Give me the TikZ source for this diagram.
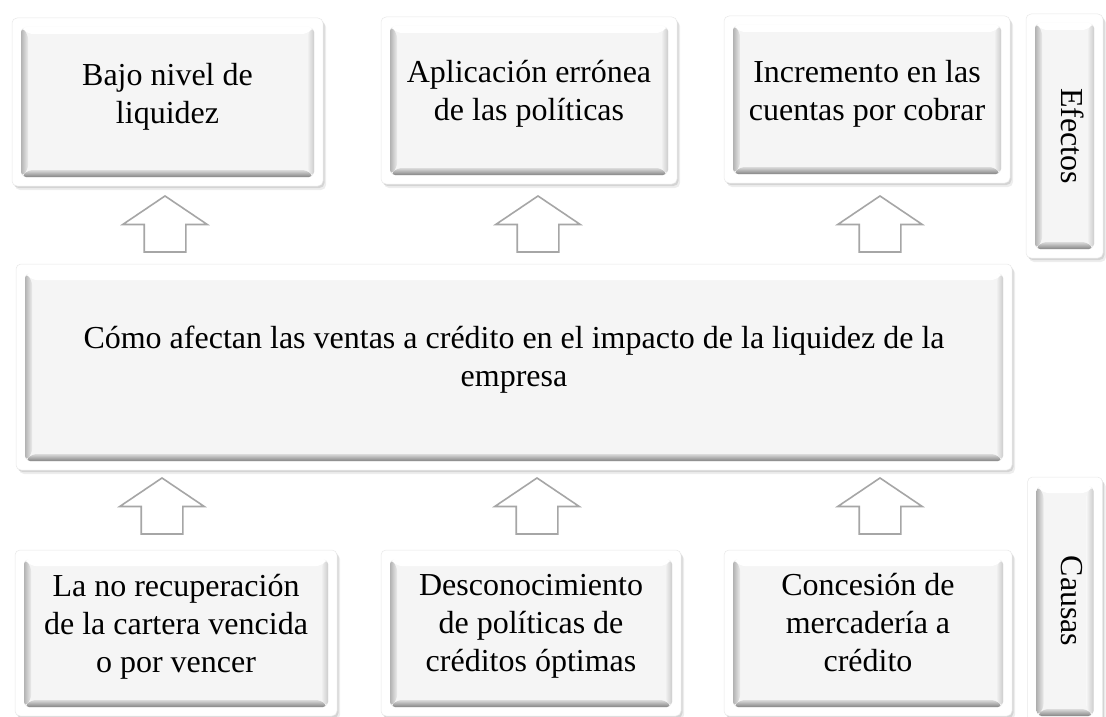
\documentclass[tikz,border=0pt]{standalone}
\usepackage{fontspec}
\setmainfont{Liberation Serif}
\usetikzlibrary{shadows,shapes.arrows,calc}
\definecolor{face}{HTML}{F5F5F5}
\definecolor{arrowgray}{HTML}{A6A6A6}
\definecolor{framegray}{HTML}{E8E8E8}
\tikzset{
  bevelbox/.style={
    rectangle, rounded corners=5pt, fill=white, draw=framegray, line width=0.5pt,
    inner sep=0pt,
    drop shadow={shadow xshift=3pt, shadow yshift=-4pt, opacity=0.07, fill=black},
    drop shadow={shadow xshift=1.5pt, shadow yshift=-2pt, opacity=0.10, fill=black},
    path picture={
      \path (path picture bounding box.south west) ++(9pt,9pt) coordinate (qa)
            (path picture bounding box.north east) ++(-9pt,-9pt) coordinate (qc);
      \path (qa) ++(7pt,7pt) coordinate (ia)
            (qc) ++(-7pt,-7pt) coordinate (ic);
      \fill[face] (qa) rectangle (qc);
      \fill[white] (qa|-qc) -- (qc) -- (ic) -- (ia|-ic) -- cycle;
      \shade[left color=black!30, right color=black!8]
            (qa) -- (qa|-qc) -- (ia|-ic) -- (ia) -- cycle;
      \shade[top color=black!14, bottom color=black!48]
            (qa) -- (qc|-qa) -- (ic|-ia) -- (ia) -- cycle;
      \shade[left color=black!4, right color=black!20]
            (qc|-qa) -- (qc) -- (ic) -- (ic|-ia) -- cycle;
    }
  },
  boxtext/.style={align=center, inner sep=0pt, anchor=base,
    font=\fontsize{32}{38}\selectfont},
  sidetext/.style={rotate=-90, font=\fontsize{32}{38}\selectfont, inner sep=0pt},
  uparrow/.style={single arrow, shape border rotate=90, draw=arrowgray,
    line width=1.6pt, fill=white, inner sep=20pt, minimum height=56pt,
    single arrow head extend=21.5pt, single arrow tip angle=112}
}
\begin{document}
\begin{tikzpicture}[x=1pt,y=-1pt]
\useasboundingbox[fill=white] (0,0) rectangle (1106,717);

% Effects row (text nodes anchored at the baseline of their last line)
\node[bevelbox, minimum width=311pt, minimum height=168pt] (t1) at (167.5,102) {};
\node[boxtext] (t1x) at (167.5,123) {Bajo nivel de\\liquidez};
\node[bevelbox, minimum width=296pt, minimum height=167pt] (t2) at (529,100.5) {};
\node[boxtext] (t2x) at (529,120) {Aplicación errónea\\de las políticas};
\node[bevelbox, minimum width=286pt, minimum height=167pt] (t3) at (867,99.5) {};
\node[boxtext] (t3x) at (867,120) {Incremento en las\\cuentas por cobrar};
\node[bevelbox, minimum width=77pt, minimum height=244pt] (ef) at (1064.5,136) {};
\node[sidetext] (eft) at (1073,136) {Efectos};

% Central problem
\node[bevelbox, minimum width=996pt, minimum height=206pt] (m) at (514,367) {};
\node[boxtext] (mx) at (514,386)
  {Cómo afectan las ventas a crédito en el impacto de la liquidez de la\\empresa};

% Causes row
\node[bevelbox, minimum width=322pt, minimum height=166pt] (b1) at (176,633) {};
\node[boxtext] (b1x) at (176,672) {La no recuperación\\de la cartera vencida\\o por vencer};
\node[bevelbox, minimum width=300pt, minimum height=166pt] (b2) at (531,633) {};
\node[boxtext] (b2x) at (531,671) {Desconocimiento\\de políticas de\\créditos óptimas};
\node[bevelbox, minimum width=288pt, minimum height=166pt] (b3) at (868,633) {};
\node[boxtext] (b3x) at (868,671) {Concesión de\\mercadería a\\crédito};
\node[bevelbox, minimum width=75pt, minimum height=248pt] (ca) at (1065,601) {};
\node[sidetext] (cat) at (1072,601) {Causas};

% Block arrows
\node[uparrow] (a1) at (165,231) {};
\node[uparrow] (a2) at (538,231) {};
\node[uparrow] (a3) at (880,231) {};
\node[uparrow] (a4) at (162,513) {};
\node[uparrow] (a5) at (537,513) {};
\node[uparrow] (a6) at (880,513) {};
\end{tikzpicture}
\end{document}
